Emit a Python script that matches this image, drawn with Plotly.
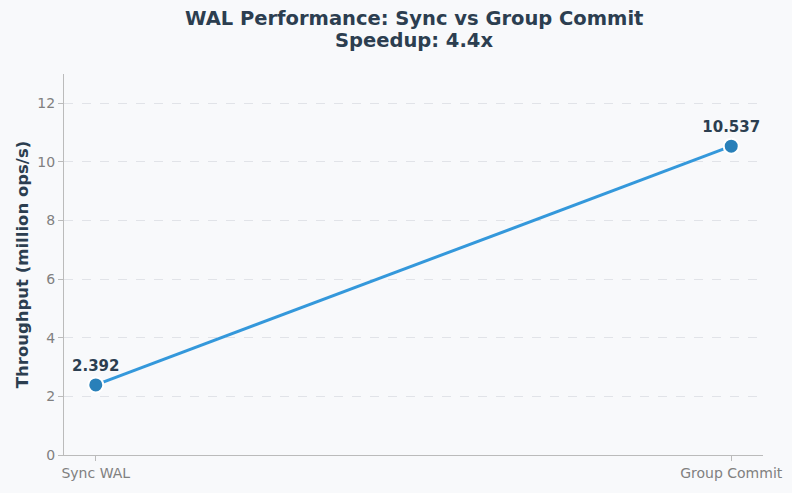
import plotly.graph_objects as go

categories = ["Sync WAL", "Group Commit"]
throughput = [2.392, 10.537]
labels = ["2.392", "10.537"]
y_ticks = [0, 2, 4, 6, 8, 10, 12]
title_lines = ["WAL Performance: Sync vs Group Commit", "Speedup: 4.4x"]

FONT = "DejaVu Sans"
fig = go.Figure()
fig.add_trace(go.Scatter(
    x=[0, 1], y=throughput,
    mode="lines+markers+text",
    line=dict(color="#3498db", width=3),
    marker=dict(color="#2980b9", size=15, line=dict(color="white", width=2)),
    text=labels, textposition="top center",
    textfont=dict(family=FONT, size=15, color="#2c3e50", weight="bold"),
    cliponaxis=False, showlegend=False,
))
for i, line in enumerate(title_lines):
    fig.add_annotation(
        text="<b>%s</b>" % line, xref="paper", yref="paper",
        x=0.5, y=1, yshift=56 - 22 * i, xanchor="center", yanchor="middle",
        showarrow=False, font=dict(family=FONT, size=19.5, color="#2c3e50"),
    )
fig.update_layout(
    width=792, height=493,
    margin=dict(l=64, r=29, t=74, b=38),
    paper_bgcolor="#f8f9fb", plot_bgcolor="#f8f9fb",
    font=dict(family=FONT, color="#808080", size=14),
)
fig.update_xaxes(
    tickmode="array", tickvals=[0, 1], ticktext=categories,
    range=[-0.05, 1.05], showgrid=False, zeroline=False, automargin=False,
    showline=True, linecolor="#bbbbbb", linewidth=1,
    ticks="outside", ticklen=5, tickcolor="#bbbbbb",
    tickfont=dict(size=14, color="#808080"),
)
fig.update_yaxes(
    range=[0, 13], tickmode="array", tickvals=y_ticks,
    showgrid=True, gridcolor="#e1e3e8", griddash="dash", gridwidth=1,
    zeroline=False, showline=True, linecolor="#bbbbbb", linewidth=1,
    ticks="outside", ticklen=5, tickcolor="#bbbbbb",
    tickfont=dict(size=14, color="#808080"),
    title=dict(text="<b>Throughput (million ops/s)</b>",
               font=dict(family=FONT, size=16.5, color="#2c3e50"), standoff=4),
)
fig.write_html("out.html")
